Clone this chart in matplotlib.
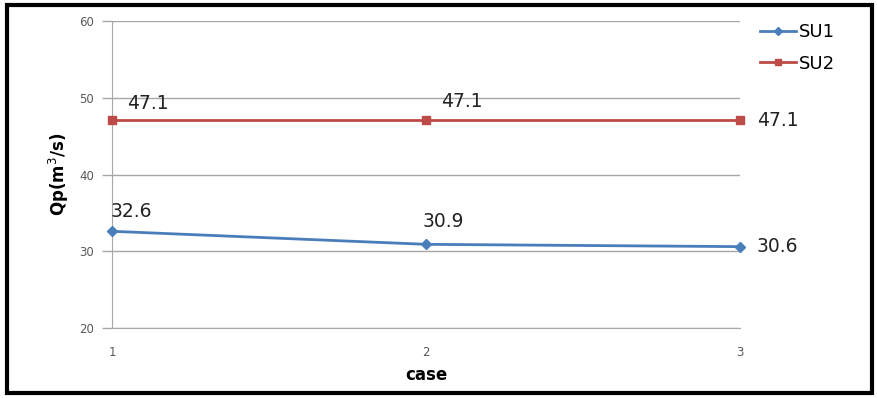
import matplotlib
matplotlib.use("Agg")
import matplotlib.pyplot as plt
from matplotlib.patches import Rectangle

cases = [1, 2, 3]
su1 = [32.6, 30.9, 30.6]
su2 = [47.1, 47.1, 47.1]
y_ticks = [20, 30, 40, 50, 60]

c_su1 = "#4A7EBB"
c_su2 = "#BE4B48"
grid_c = "#A6A6A6"
tick_c = "#595959"

fig = plt.figure(figsize=(8.78, 3.98), dpi=100)
ax = fig.add_axes([0.1276, 0.176, 0.7152, 0.771])

ax.plot(cases, su1, color=c_su1, lw=2, marker="D", ms=5, label="SU1",
        zorder=3, clip_on=False)
ax.plot(cases, su2, color=c_su2, lw=2, marker="s", ms=6, label="SU2",
        zorder=3, clip_on=False)

ax.set_xlim(1, 3)
ax.set_ylim(20, 60)
ax.set_yticks(y_ticks)
ax.set_xticks(cases)
ax.yaxis.grid(True, color=grid_c, lw=1)
ax.set_axisbelow(True)
for s in ["top", "right"]:
    ax.spines[s].set_visible(False)
ax.spines["left"].set_color(grid_c)
ax.spines["bottom"].set_color(grid_c)
ax.tick_params(axis="y", colors=grid_c, length=7, width=1, labelsize=8.5,
               labelcolor=tick_c, pad=6)
ax.tick_params(axis="x", length=0, labelsize=8.5, labelcolor=tick_c, pad=13)

ax.set_xlabel("case", fontsize=12, fontweight="bold", labelpad=5)
ax.set_ylabel("Qp(m$^3$/s)", fontsize=12, fontweight="bold", labelpad=6)

# value labels (offsets in pixels from each point)
lab_kw = dict(fontsize=13.5, color="#222222", textcoords="offset pixels",
              annotation_clip=False)
offsets1 = [(-1, 10, "left", "bottom"), (-3, 13, "left", "bottom"), (17, 0, "left", "center")]
offsets2 = [(15, 7, "left", "bottom"), (15, 9, "left", "bottom"), (17, 0, "left", "center")]
for x, y, (dx, dy, ha, va) in zip(cases, su1, offsets1):
    ax.annotate(f"{y:.1f}", (x, y), xytext=(dx, dy), ha=ha, va=va, **lab_kw)
for x, y, (dx, dy, ha, va) in zip(cases, su2, offsets2):
    ax.annotate(f"{y:.1f}", (x, y), xytext=(dx, dy), ha=ha, va=va, **lab_kw)

fig.legend(loc="upper left", bbox_to_anchor=(0.857, 0.96), frameon=False,
           fontsize=13, handlelength=2.0, handletextpad=0.15, labelspacing=0.75,
           borderaxespad=0, markerscale=0.8)

# outer frame
fig.patches.append(Rectangle((0.008, 0.012), 0.985, 0.975, transform=fig.transFigure,
                             fill=False, edgecolor="black", lw=3))

fig.savefig("out.png", dpi=100)
